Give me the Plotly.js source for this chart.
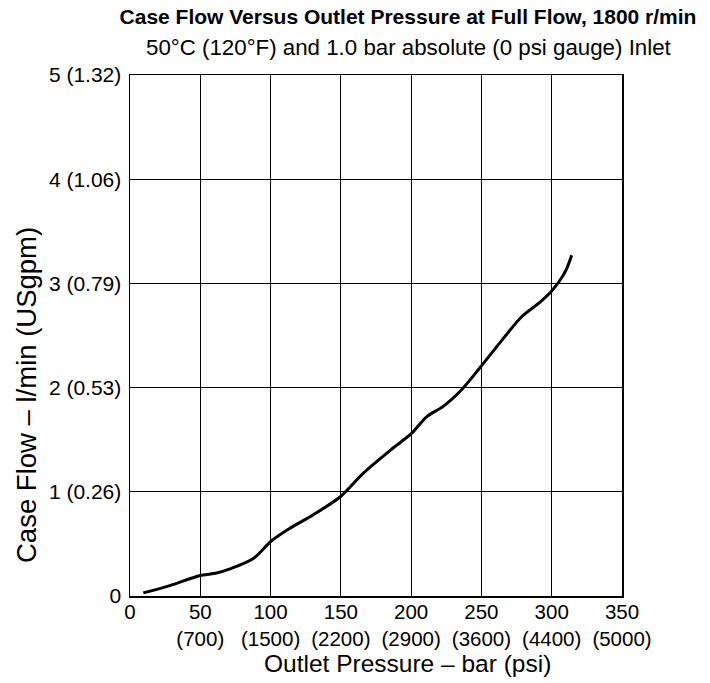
<!DOCTYPE html>
<html>
<head>
<meta charset="utf-8">
<script src="https://cdn.plot.ly/plotly-3.0.1.min.js"></script>
<style>html,body{margin:0;padding:0;background:#fff;}#chart{width:710px;height:683px;}</style>
</head>
<body>
<div id="chart"></div>
<script>
// Outlet pressure (bar) and case flow (l/min)
const pressureBar = [9.5, 28.4, 49.3, 61.6, 71.1, 87.7, 100.7, 113.8, 130.4, 149.4, 166, 185.3, 200.3, 211, 222.8, 235.9, 248.9, 265.5, 278.6, 291.7, 299.5, 305.9, 310.6, 314.2];
const caseFlow    = [0.03, 0.10, 0.195, 0.22, 0.26, 0.36, 0.53, 0.65, 0.78, 0.95, 1.18, 1.40, 1.56, 1.72, 1.82, 1.98, 2.19, 2.47, 2.68, 2.82, 2.92, 3.03, 3.14, 3.27];

const xTickVals = [0, 50, 100, 150, 200, 250, 300, 350];
const xTickText = ['0', '50<br>(700)', '100<br>(1500)', '150<br>(2200)', '200<br>(2900)', '250<br>(3600)', '300<br>(4400)', '350<br>(5000)'];
const yTickVals = [0, 1, 2, 3, 4, 5];
const yTickText = ['0', '1 (0.26)', '2 (0.53)', '3 (0.79)', '4 (1.06)', '5 (1.32)'];

const titleText = 'Case Flow Versus Outlet Pressure at Full Flow, 1800 r/min';
const subtitleText = '50°C (120°F) and 1.0 bar absolute (0 psi gauge) Inlet';
const xTitleText = 'Outlet Pressure – bar (psi)';
const yTitleText = 'Case Flow – l/min (USgpm)';

const FONT = 'Liberation Sans, Arial, sans-serif';

const trace = {
  x: pressureBar,
  y: caseFlow,
  type: 'scatter',
  mode: 'lines',
  line: {color: '#000', width: 3, shape: 'spline', smoothing: 0.8},
  hoverinfo: 'skip'
};

const layout = {
  width: 710,
  height: 683,
  margin: {l: 130, r: 88, t: 75, b: 87},
  paper_bgcolor: '#fff',
  plot_bgcolor: '#fff',
  showlegend: false,
  font: {family: FONT, size: 21, color: '#000'},
  title: {
    text: '<b>' + titleText + '</b>',
    font: {family: FONT, size: 21, color: '#000'},
    x: 408 / 710, xanchor: 'center', xref: 'container',
    y: 1 - 17 / 683, yanchor: 'middle', yref: 'container'
  },
  xaxis: {
    range: [0, 350],
    tickmode: 'array',
    tickvals: xTickVals,
    ticktext: xTickText,
    showgrid: true, gridcolor: '#000', gridwidth: 1,
    showline: true, linecolor: '#000', linewidth: 1.5, mirror: true,
    zeroline: false,
    ticks: '',
    ticklabelstandoff: -3,
    tickfont: {family: FONT, size: 20.5, color: '#000'},
    fixedrange: true
  },
  yaxis: {
    range: [0, 5],
    tickmode: 'array',
    tickvals: yTickVals,
    ticktext: yTickText,
    showgrid: true, gridcolor: '#000', gridwidth: 1,
    showline: true, linecolor: '#000', linewidth: 1.5, mirror: true,
    zeroline: false,
    ticks: 'outside', ticklen: 3, tickcolor: 'rgba(0,0,0,0)',
    tickfont: {family: FONT, size: 21, color: '#000'},
    fixedrange: true
  },
  annotations: [
    {text: subtitleText, xref: 'paper', yref: 'paper', x: (409 - 130) / 492, y: (596 - 47) / 521,
     xanchor: 'center', yanchor: 'middle', showarrow: false, font: {family: FONT, size: 22.3, color: '#000'}},
    {text: xTitleText, xref: 'paper', yref: 'paper', x: (407 - 130) / 492, y: (596 - 663) / 521,
     xanchor: 'center', yanchor: 'middle', showarrow: false, font: {family: FONT, size: 24.5, color: '#000'}},
    {text: yTitleText, xref: 'paper', yref: 'paper', x: (26 - 130) / 492, y: (596 - 395) / 521,
     xanchor: 'center', yanchor: 'middle', textangle: -90, showarrow: false, font: {family: FONT, size: 27.5, color: '#000'}}
  ]
};

Plotly.newPlot('chart', [trace], layout, {displayModeBar: false, staticPlot: true});
</script>
</body>
</html>
